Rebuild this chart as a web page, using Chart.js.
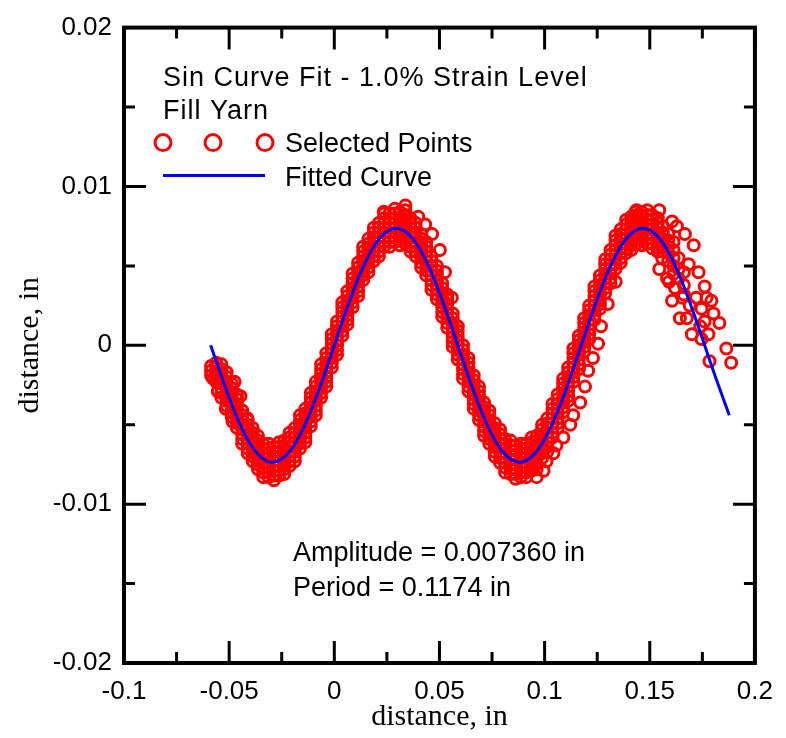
<!DOCTYPE html>
<html>
<head>
<meta charset="utf-8">
<script src="https://cdn.jsdelivr.net/npm/chart.js@4.4.1/dist/chart.umd.min.js"></script>
<style>
  body { margin: 0; background: #fff; }
</style>
</head>
<body>
<canvas id="sin-chart" width="786" height="738"></canvas>
<script>
// axis ticks
const xTicks = [-0.1, -0.05, 0, 0.05, 0.1, 0.15, 0.2];
const xTickLabels = ['-0.1', '-0.05', '0', '0.05', '0.1', '0.15', '0.2'];
const xMinor = [-0.075, -0.025, 0.025, 0.075, 0.125, 0.175];
const yTicks = [-0.02, -0.01, 0, 0.01, 0.02];
const yTickLabels = ['-0.02', '-0.01', '0', '0.01', '0.02'];
const yMinor = [-0.015, -0.005, 0.005, 0.015];

// fitted sine curve
const fitX = [-0.0588, -0.055, -0.050, -0.045, -0.040, -0.035, -0.030, -0.025, -0.020, -0.015,
  -0.010, -0.005, 0, 0.005, 0.010, 0.015, 0.020, 0.025, 0.030, 0.035,
  0.040, 0.045, 0.050, 0.055, 0.060, 0.065, 0.070, 0.075, 0.080, 0.085,
  0.090, 0.095, 0.100, 0.105, 0.110, 0.115, 0.120, 0.125, 0.130, 0.135,
  0.140, 0.145, 0.150, 0.155, 0.160, 0.165, 0.170, 0.175, 0.180, 0.185, 0.1878];
const fitY = [0.0000, -0.00145, -0.00330, -0.00493, -0.00620, -0.00703, -0.00736, -0.00716, -0.00646, -0.00529,
  -0.00376, -0.00195, 0.0000, 0.00195, 0.00376, 0.00529, 0.00646, 0.00716, 0.00736, 0.00703,
  0.00620, 0.00493, 0.00330, 0.00145, -0.00051, -0.00243, -0.00418, -0.00564, -0.00669, -0.00726,
  -0.00732, -0.00685, -0.00591, -0.00453, -0.00284, -0.00094, 0.00102, 0.00291, 0.00460, 0.00595,
  0.00689, 0.00733, 0.00725, 0.00666, 0.00559, 0.00411, 0.00235, 0.00043, -0.00153, -0.00338, -0.00440];

// selected points: x position and the y values found at it
const selColX = [-0.0586, -0.0562, -0.0537, -0.0512, -0.0488, -0.0463, -0.0438, -0.0412, -0.0388, -0.0363,
  -0.0338, -0.0312, -0.0287, -0.0262, -0.0238, -0.0213, -0.0188, -0.0163, -0.0138, -0.0112,
  -0.0088, -0.0063, -0.0038, -0.0012, 0.0013, 0.0038, 0.0062, 0.0087, 0.0113, 0.0137,
  0.0162, 0.0188, 0.0212, 0.0237, 0.0263, 0.0288, 0.0312, 0.0337, 0.0362, 0.0387,
  0.0413, 0.0437, 0.0462, 0.0488, 0.0513, 0.0537, 0.0563, 0.0587, 0.0612, 0.0638,
  0.0663, 0.0688, 0.0712, 0.0737, 0.0763, 0.0788, 0.0812, 0.0838, 0.0862, 0.0887,
  0.0913, 0.0938, 0.0962, 0.0988, 0.1013, 0.1037, 0.1062, 0.1088, 0.1112, 0.1137,
  0.1163, 0.1188, 0.1212, 0.1237, 0.1263, 0.1288, 0.1313, 0.1337, 0.1362, 0.1388,
  0.1412, 0.1437, 0.1462, 0.1488, 0.1512, 0.1538, 0.1562, 0.1588, 0.1613, 0.1637, 0.1662];
const selColY = [
  [-0.0013, -0.0016, -0.0019],
  [-0.0011, -0.0014, -0.0017, -0.0020, -0.0023],
  [-0.0033, -0.0030, -0.0027, -0.0024, -0.0021, -0.0018, -0.0015, -0.0012],
  [-0.0038, -0.0035, -0.0032, -0.0029, -0.0026, -0.0023, -0.0020, -0.0017],
  [-0.0045, -0.0042, -0.0039, -0.0036, -0.0033, -0.0030, -0.0027, -0.0024],
  [-0.0052, -0.0049, -0.0046, -0.0043, -0.0040, -0.0037, -0.0034, -0.0031],
  [-0.0062, -0.0059, -0.0056, -0.0053, -0.0050, -0.0047, -0.0044, -0.0041],
  [-0.0068, -0.0065, -0.0062, -0.0059, -0.0056, -0.0053, -0.0050, -0.0047],
  [-0.0073, -0.0070, -0.0067, -0.0064, -0.0061, -0.0058, -0.0055, -0.0052],
  [-0.0078, -0.0075, -0.0072, -0.0069, -0.0066, -0.0063, -0.0060, -0.0057],
  [-0.0083, -0.0080, -0.0077, -0.0074, -0.0071, -0.0068, -0.0065, -0.0062],
  [-0.0083, -0.0080, -0.0077, -0.0074, -0.0071, -0.0068, -0.0065, -0.0062],
  [-0.0085, -0.0082, -0.0079, -0.0076, -0.0073, -0.0070, -0.0067, -0.0064],
  [-0.0082, -0.0079, -0.0076, -0.0073, -0.0070, -0.0067, -0.0064, -0.0061],
  [-0.0081, -0.0078, -0.0075, -0.0072, -0.0069, -0.0066, -0.0063, -0.0060],
  [-0.0076, -0.0073, -0.0070, -0.0067, -0.0064, -0.0061, -0.0058, -0.0055],
  [-0.0073, -0.0070, -0.0067, -0.0064, -0.0061, -0.0058, -0.0055, -0.0052],
  [-0.0065, -0.0062, -0.0059, -0.0056, -0.0053, -0.0050, -0.0047, -0.0044],
  [-0.0061, -0.0058, -0.0055, -0.0052, -0.0049, -0.0046, -0.0043, -0.0040],
  [-0.0051, -0.0048, -0.0045, -0.0042, -0.0039, -0.0036, -0.0033, -0.0030],
  [-0.0044, -0.0041, -0.0038, -0.0035, -0.0032, -0.0029, -0.0026, -0.0023],
  [-0.0033, -0.0030, -0.0027, -0.0024, -0.0021, -0.0018, -0.0015, -0.0012],
  [-0.0026, -0.0023, -0.0020, -0.0017, -0.0014, -0.0011, -0.0008, -0.0005],
  [-0.0014, -0.0011, -0.0008, -0.0005, -0.0002, 0.0001, 0.0004, 0.0007],
  [-0.0006, -0.0003, 0.0000, 0.0003, 0.0006, 0.0009, 0.0012, 0.0015],
  [0.0006, 0.0009, 0.0012, 0.0015, 0.0018, 0.0021, 0.0024, 0.0027],
  [0.0013, 0.0016, 0.0019, 0.0022, 0.0025, 0.0028, 0.0031, 0.0034],
  [0.0024, 0.0027, 0.0030, 0.0033, 0.0036, 0.0039, 0.0042, 0.0045],
  [0.0031, 0.0034, 0.0037, 0.0040, 0.0043, 0.0046, 0.0049, 0.0052],
  [0.0041, 0.0044, 0.0047, 0.0050, 0.0053, 0.0056, 0.0059, 0.0062],
  [0.0046, 0.0049, 0.0052, 0.0055, 0.0058, 0.0061, 0.0064, 0.0067],
  [0.0053, 0.0056, 0.0059, 0.0062, 0.0065, 0.0068, 0.0071, 0.0074],
  [0.0056, 0.0059, 0.0062, 0.0065, 0.0068, 0.0071, 0.0074, 0.0077],
  [0.0062, 0.0065, 0.0068, 0.0071, 0.0074, 0.0077, 0.0080, 0.0083],
  [0.0062, 0.0065, 0.0068, 0.0071, 0.0074, 0.0077, 0.0080, 0.0083],
  [0.0065, 0.0068, 0.0071, 0.0074, 0.0077, 0.0080, 0.0083, 0.0086],
  [0.0063, 0.0066, 0.0069, 0.0072, 0.0075, 0.0078, 0.0081, 0.0084],
  [0.0064, 0.0067, 0.0070, 0.0073, 0.0076, 0.0079, 0.0082, 0.0085],
  [0.0059, 0.0062, 0.0065, 0.0068, 0.0071, 0.0074, 0.0077, 0.0080],
  [0.0056, 0.0059, 0.0062, 0.0065, 0.0068, 0.0071, 0.0074, 0.0077],
  [0.0049, 0.0052, 0.0055, 0.0058, 0.0061, 0.0064, 0.0067, 0.0070],
  [0.0044, 0.0047, 0.0050, 0.0053, 0.0056, 0.0059, 0.0062, 0.0065],
  [0.0035, 0.0038, 0.0041, 0.0044, 0.0047, 0.0050, 0.0053, 0.0056],
  [0.0029, 0.0032, 0.0035, 0.0038, 0.0041, 0.0044, 0.0047, 0.0050],
  [0.0018, 0.0021, 0.0024, 0.0027, 0.0030, 0.0033, 0.0036, 0.0039],
  [0.0011, 0.0014, 0.0017, 0.0020, 0.0023, 0.0026, 0.0029, 0.0032],
  [-0.0001, 0.0002, 0.0005, 0.0008, 0.0011, 0.0014, 0.0017, 0.0020],
  [-0.0009, -0.0006, -0.0003, 0.0000, 0.0003, 0.0006, 0.0009, 0.0012],
  [-0.0021, -0.0018, -0.0015, -0.0012, -0.0009, -0.0006, -0.0003, 0.0000],
  [-0.0029, -0.0026, -0.0023, -0.0020, -0.0017, -0.0014, -0.0011, -0.0008],
  [-0.0040, -0.0037, -0.0034, -0.0031, -0.0028, -0.0025, -0.0022, -0.0019],
  [-0.0047, -0.0044, -0.0041, -0.0038, -0.0035, -0.0032, -0.0029, -0.0026],
  [-0.0057, -0.0054, -0.0051, -0.0048, -0.0045, -0.0042, -0.0039, -0.0036],
  [-0.0062, -0.0059, -0.0056, -0.0053, -0.0050, -0.0047, -0.0044, -0.0041],
  [-0.0070, -0.0067, -0.0064, -0.0061, -0.0058, -0.0055, -0.0052, -0.0049],
  [-0.0074, -0.0071, -0.0068, -0.0065, -0.0062, -0.0059, -0.0056, -0.0053],
  [-0.0080, -0.0077, -0.0074, -0.0071, -0.0068, -0.0065, -0.0062, -0.0059],
  [-0.0081, -0.0078, -0.0075, -0.0072, -0.0069, -0.0066, -0.0063, -0.0060],
  [-0.0084, -0.0081, -0.0078, -0.0075, -0.0072, -0.0069, -0.0066, -0.0063],
  [-0.0083, -0.0080, -0.0077, -0.0074, -0.0071, -0.0068, -0.0065, -0.0062],
  [-0.0083, -0.0080, -0.0077, -0.0074, -0.0071, -0.0068, -0.0065, -0.0062],
  [-0.0079, -0.0076, -0.0073, -0.0070, -0.0067, -0.0064, -0.0061, -0.0058],
  [-0.0078, -0.0075, -0.0072, -0.0069, -0.0066, -0.0063, -0.0060, -0.0057],
  [-0.0071, -0.0068, -0.0065, -0.0062, -0.0059, -0.0056, -0.0053, -0.0050],
  [-0.0067, -0.0064, -0.0061, -0.0058, -0.0055, -0.0052, -0.0049, -0.0046],
  [-0.0058, -0.0055, -0.0052, -0.0049, -0.0046, -0.0043, -0.0040, -0.0037],
  [-0.0052, -0.0049, -0.0046, -0.0043, -0.0040, -0.0037, -0.0034, -0.0031],
  [-0.0042, -0.0039, -0.0036, -0.0033, -0.0030, -0.0027, -0.0024, -0.0021],
  [-0.0035, -0.0032, -0.0029, -0.0026, -0.0023, -0.0020, -0.0017, -0.0014],
  [-0.0023, -0.0020, -0.0017, -0.0014, -0.0011, -0.0008, -0.0005, -0.0002],
  [-0.0015, -0.0012, -0.0009, -0.0006, -0.0003, 0.0000, 0.0003, 0.0006],
  [-0.0004, -0.0001, 0.0002, 0.0005, 0.0008, 0.0011, 0.0014, 0.0017],
  [0.0004, 0.0007, 0.0010, 0.0013, 0.0016, 0.0019, 0.0022, 0.0025],
  [0.0016, 0.0019, 0.0022, 0.0025, 0.0028, 0.0031, 0.0034, 0.0037],
  [0.0023, 0.0026, 0.0029, 0.0032, 0.0035, 0.0038, 0.0041, 0.0044],
  [0.0033, 0.0036, 0.0039, 0.0042, 0.0045, 0.0048, 0.0051, 0.0054],
  [0.0039, 0.0042, 0.0045, 0.0048, 0.0051, 0.0054, 0.0057, 0.0060],
  [0.0048, 0.0051, 0.0054, 0.0057, 0.0060, 0.0063, 0.0066, 0.0069],
  [0.0052, 0.0055, 0.0058, 0.0061, 0.0064, 0.0067, 0.0070, 0.0073],
  [0.0058, 0.0061, 0.0064, 0.0067, 0.0070, 0.0073, 0.0076, 0.0079],
  [0.0060, 0.0063, 0.0066, 0.0069, 0.0072, 0.0075, 0.0078, 0.0081],
  [0.0064, 0.0067, 0.0070, 0.0073, 0.0076, 0.0079, 0.0082, 0.0085],
  [0.0063, 0.0066, 0.0069, 0.0072, 0.0075, 0.0078, 0.0081, 0.0084],
  [0.0064, 0.0067, 0.0070, 0.0073, 0.0076, 0.0079, 0.0082, 0.0085],
  [0.0061, 0.0064, 0.0067, 0.0070, 0.0073, 0.0076, 0.0079, 0.0082],
  [0.0059, 0.0062, 0.0065, 0.0068, 0.0071, 0.0074, 0.0077, 0.0080],
  [0.0059, 0.0063, 0.0067, 0.0071, 0.0075],
  [0.0053, 0.0058, 0.0062, 0.0066, 0.0070],
  [0.0045, 0.0050, 0.0055, 0.0060, 0.0065],
  [0.0042, 0.0048, 0.0055],
  [0.0032, 0.0038, 0.0046]
];

// stray points away from the main band
const extraX = [-0.0577, -0.0554, -0.0516, -0.0484, -0.0474, -0.0446, -0.0413,
  0.0235, 0.0338, 0.0399, 0.0432, 0.0465, 0.0502, 0.0526, 0.0559, 0.0585,
  0.0962, 0.0995, 0.1009, 0.1042, 0.1056, 0.1089, 0.1122, 0.1136, 0.1169, 0.1192,
  0.1207, 0.1230, 0.1254, 0.1268, 0.1300, 0.1338,
  0.1432, 0.1545, 0.1606, 0.1629, 0.1667, 0.1709, 0.1685, 0.1732, 0.1746, 0.1761,
  0.1770, 0.1793, 0.1803, 0.1831, 0.1864, 0.1887, 0.1779, 0.1784, 0.1761, 0.1643,
  0.1676, 0.1606, 0.1582, 0.1559, 0.1545, 0.1592, 0.1700, 0.1746, 0.1720, 0.1740,
  0.1690, 0.1655, 0.1620];
const extraY = [-0.0021, -0.0029, -0.0040, -0.0048, -0.0023, -0.0032, -0.0046,
  0.0084, 0.0088, 0.0081, 0.0076, 0.0070, 0.0060, 0.0046, 0.0030, 0.0012,
  -0.0083, -0.0079, -0.0073, -0.0068, -0.0063, -0.0058, -0.0050, -0.0044, -0.0036, -0.0026,
  -0.0016, -0.0008, 0.0001, 0.0012, 0.0026, 0.0040,
  0.0084, 0.0085, 0.0078, 0.0075, 0.0070, 0.0063, 0.0051, 0.0046, 0.0023, 0.0037,
  0.0030, 0.0028, 0.0020, 0.0014, -0.0002, -0.0011, 0.0007, -0.0010, 0.0015, 0.0017,
  0.0017, 0.0028, 0.0042, 0.0055, 0.0048, 0.0040, 0.0007, 0.0004, 0.0030, 0.0012,
  0.0025, 0.0030, 0.0036];

let selPoints = []
selColX.forEach((x, i) => selColY[i].forEach(y => selPoints.push({x: x, y: y})))
extraX.forEach((x, i) => selPoints.push({x: x, y: extraY[i]}))
const fitPoints = fitX.map((x, i) => ({x: x, y: fitY[i]}))

const sansFont = '"Liberation Sans", Arial, sans-serif';
const serifFont = '"Liberation Serif", "Times New Roman", serif';

// inward ticks on all four sides plus the frame
const framePlugin = {
  id: 'frame',
  afterDraw(chart) {
    const ctx = chart.ctx;
    const {left, right, top, bottom} = chart.chartArea;
    const xs = chart.scales.x, ys = chart.scales.y;
    ctx.save();
    ctx.strokeStyle = '#000';
    ctx.lineWidth = 3;
    ctx.beginPath();
    const xTick = (v, len) => {
      const px = xs.getPixelForValue(v);
      ctx.moveTo(px, bottom); ctx.lineTo(px, bottom - len);
      ctx.moveTo(px, top); ctx.lineTo(px, top + len);
    };
    const yTick = (v, len) => {
      const py = ys.getPixelForValue(v);
      ctx.moveTo(left, py); ctx.lineTo(left + len, py);
      ctx.moveTo(right, py); ctx.lineTo(right - len, py);
    };
    xTicks.forEach(v => xTick(v, 22));
    xMinor.forEach(v => xTick(v, 11));
    yTicks.forEach(v => yTick(v, 22));
    yMinor.forEach(v => yTick(v, 11));
    ctx.stroke();
    ctx.lineWidth = 4;
    ctx.strokeRect(left, top, right - left, bottom - top);
    ctx.restore();
  }
};

// title, legend and fit results written inside the plot
const notesPlugin = {
  id: 'notes',
  afterDraw(chart) {
    const ctx = chart.ctx;
    const {left, top} = chart.chartArea;
    ctx.save();
    ctx.fillStyle = '#000';
    ctx.textBaseline = 'alphabetic';
    ctx.textAlign = 'left';
    ctx.font = '27px ' + sansFont;
    ctx.letterSpacing = '1px';
    ctx.fillText('Sin Curve Fit - 1.0% Strain Level', left + 39, top + 58);
    ctx.fillText('Fill Yarn', left + 39, top + 91);
    ctx.letterSpacing = '0px';
    ctx.fillText('Selected Points', left + 161, top + 124);
    ctx.fillText('Fitted Curve', left + 161, top + 158);
    ctx.fillText('Amplitude = 0.007360 in', left + 169, top + 533);
    ctx.fillText('Period = 0.1174 in', left + 169, top + 568);

    ctx.strokeStyle = '#ff0000';
    ctx.lineWidth = 3;
    [left + 39, left + 89, left + 141].forEach(cx => {
      ctx.beginPath();
      ctx.arc(cx, top + 115, 8, 0, Math.PI * 2);
      ctx.stroke();
    });
    ctx.strokeStyle = '#0000ff';
    ctx.beginPath();
    ctx.moveTo(left + 39, top + 148);
    ctx.lineTo(left + 141, top + 148);
    ctx.stroke();
    ctx.restore();
  }
};

const sinChart = new Chart(document.getElementById('sin-chart'), {
  type: 'scatter',
  plugins: [framePlugin, notesPlugin],
  data: {
    datasets: [
      {
        label: 'Fitted Curve',
        type: 'line',
        data: fitPoints,
        borderColor: '#0000ff',
        borderWidth: 3,
        pointRadius: 0,
        tension: 0.3,
        fill: false,
        order: 0
      },
      {
        label: 'Selected Points',
        data: selPoints,
        pointStyle: 'circle',
        pointRadius: 5.5,
        pointBorderWidth: 3,
        pointBorderColor: '#ff0000',
        pointBackgroundColor: 'rgba(0,0,0,0)',
        order: 1
      }
    ]
  },
  options: {
    responsive: false,
    animation: false,
    layout: { padding: { top: 24, right: 23, left: 0, bottom: 0 } },
    plugins: {
      legend: { display: false },
      tooltip: { enabled: false }
    },
    scales: {
      x: {
        type: 'linear',
        min: -0.1,
        max: 0.2,
        afterBuildTicks: (scale) => { scale.ticks = xTicks.map(v => ({value: v})) },
        afterFit: (scale) => { scale.height = 75 },
        grid: { display: false, drawTicks: false },
        border: { display: false },
        ticks: {
          callback: (v, i) => xTickLabels[i],
          autoSkip: false,
          maxRotation: 0,
          padding: 13,
          color: '#000',
          font: { family: sansFont, size: 26 }
        },
        title: {
          display: true,
          text: 'distance, in',
          color: '#000',
          padding: { top: 0, bottom: 3 },
          font: { family: serifFont, size: 30 }
        }
      },
      y: {
        type: 'linear',
        min: -0.02,
        max: 0.02,
        afterBuildTicks: (scale) => { scale.ticks = yTicks.map(v => ({value: v})) },
        afterFit: (scale) => { scale.width = 124 },
        grid: { display: false, drawTicks: false },
        border: { display: false },
        ticks: {
          callback: (v, i) => yTickLabels[i],
          autoSkip: false,
          padding: 12,
          color: '#000',
          font: { family: sansFont, size: 26 }
        },
        title: {
          display: true,
          text: 'distance, in',
          color: '#000',
          padding: { top: 12, bottom: 0 },
          font: { family: serifFont, size: 30 }
        }
      }
    }
  }
})
</script>
</body>
</html>
